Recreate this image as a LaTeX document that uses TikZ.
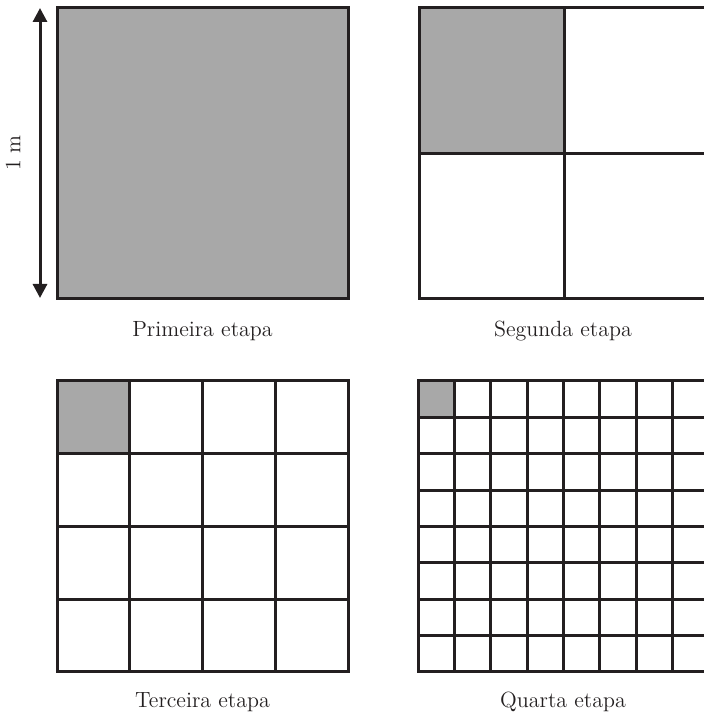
\documentclass[tikz,border=0pt]{standalone}
\usepackage{tikz}
\usetikzlibrary{arrows.meta,calc}

\definecolor{cinza}{RGB}{168,168,168}
\definecolor{traco}{RGB}{35,31,32}

\begin{document}
\begin{tikzpicture}[
		x=0.5pt, y=0.5pt,
		every node/.style={font=\fontsize{11}{13}\selectfont},
		quadrado/.style={rectangle, draw=traco, line width=1.5pt, minimum size=145.5pt, inner sep=0pt, outer sep=0pt},
		celula/.style={draw=traco, line width=1.5pt, fill=cinza},
		linha/.style={draw=traco, line width=1.5pt}
	]
  \useasboundingbox (0,0) rectangle (704,719);
  \clip (0,0) rectangle (704,719);
  % squares
  \node (q1) [quadrado, fill=cinza] at (202.5,565.5) {};
  \node (q2) [quadrado] at (564.5,565.5) {};
  \node (q3) [quadrado] at (202.5,192.5) {};
  \node (q4) [quadrado] at (563.5,192.5) {};
  % shaded cells
  \draw [celula] (q2.north west) rectangle (q2.center);
  \draw [celula] (q3.north west) rectangle ($(q3.north west)!0.25!(q3.south east)$);
  \draw [celula] (q4.north west) rectangle ($(q4.north west)!0.125!(q4.south east)$);
  % grids
  \draw [linha] (q2.north) -- (q2.south);
  \draw [linha] (q2.west) -- (q2.east);
  \foreach \i in {1,2,3} {
    \draw [linha] ($(q3.north west)!\i/4!(q3.north east)$) -- ($(q3.south west)!\i/4!(q3.south east)$);
    \draw [linha] ($(q3.north west)!\i/4!(q3.south west)$) -- ($(q3.north east)!\i/4!(q3.south east)$);
  }
  \foreach \i in {1,...,7} {
    \draw [linha] ($(q4.north west)!\i/8!(q4.north east)$) -- ($(q4.south west)!\i/8!(q4.south east)$);
    \draw [linha] ($(q4.north west)!\i/8!(q4.south west)$) -- ($(q4.north east)!\i/8!(q4.south east)$);
  }
  % measure
  \coordinate (topo) at (40,711);
  \coordinate (base) at (40,421);
  \draw [traco, line width=1.5pt, {Triangle[width=7pt,length=7pt]}-{Triangle[width=7pt,length=7pt]}] (base) -- (topo);
  \node (medida) [rotate=90, text=traco] at (13,566) {1 m};
  % labels
  \node (e1) [text=traco] at (202.5,388) {Primeira etapa};
  \node (e2) [text=traco] at (563,388) {Segunda etapa};
  \node (e3) [text=traco] at (202.5,17) {Terceira etapa};
  \node (e4) [text=traco] at (563,17) {Quarta etapa};
\end{tikzpicture}
\end{document}
